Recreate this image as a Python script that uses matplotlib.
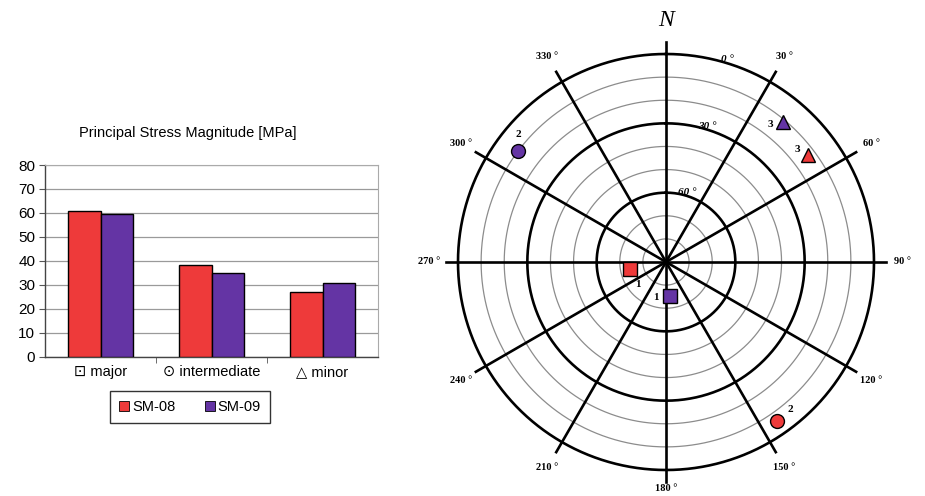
import numpy as np
import matplotlib
matplotlib.use("Agg")
import matplotlib.pyplot as plt
from matplotlib.patches import Patch

# ---------------- data ----------------
categories = ["\u22a1 major", "\u2299 intermediate", "\u25b3 minor"]
series_names = ["SM-08", "SM-09"]
sm08_values = [61, 38.5, 27]
sm09_values = [59.5, 35, 31]
y_ticks = [0, 10, 20, 30, 40, 50, 60, 70, 80]

# stereonet points: (azimuth deg, dip deg)
sm08_azimuth = [259, 145, 53]
sm08_dip = [74, 6, 13]
sm09_azimuth = [174, 307, 40]
sm09_dip = [75, 10, 11]
point_labels = ["1", "2", "3"]
point_markers = ["s", "o", "^"]

spoke_azimuths = [0, 30, 60, 90, 120, 150, 180, 210, 240, 270, 300, 330]
major_dips = [0, 30, 60]
minor_dips = [10, 20, 40, 50, 70, 80]
dip_label_azimuth = 17

RED = "#ee3a3a"
PURPLE = "#6434a4"

fig = plt.figure(figsize=(9.25, 4.96), dpi=100)
fig.patch.set_facecolor("white")
sans = ["Liberation Sans", "DejaVu Sans"]
serif = ["Liberation Serif", "DejaVu Serif"]

# ---------------- bar chart ----------------
ax = fig.add_axes([45 / 925, (496 - 357) / 496, 333 / 925, 192 / 496])
x = np.arange(len(categories))
w = 0.29
ax.bar(x - w / 2, sm08_values, w, color=RED, edgecolor="black", linewidth=1.0, zorder=3)
ax.bar(x + w / 2, sm09_values, w, color=PURPLE, edgecolor="black", linewidth=1.0, zorder=3)
ax.set_xlim(-0.5, len(categories) - 0.5)
ax.set_ylim(0, 80)
ax.set_yticks(y_ticks)
ax.set_yticklabels([str(v) for v in y_ticks], family=sans, fontsize=11)
ax.set_xticks(x)
ax.set_xticklabels(categories, family=sans, fontsize=10.5)
ax.tick_params(axis="x", length=0, pad=6)
ax.set_xticks(np.arange(0.5, len(categories) - 0.5, 1), minor=True)
ax.tick_params(axis="x", which="minor", length=4, color="#555555")
ax.tick_params(axis="y", length=4, color="#555555", pad=3)
ax.yaxis.grid(True, color="#9a9a9a", linewidth=0.9, zorder=0)
for s in ["top", "right"]:
    ax.spines[s].set_color("#aaaaaa")
for s in ["left", "bottom"]:
    ax.spines[s].set_color("#444444")
    ax.spines[s].set_linewidth(1.0)
fig.text(188 / 925, (496 - 133) / 496, "Principal Stress Magnitude [MPa]",
         ha="center", va="center", family=sans, fontsize=10.5)
handles = [Patch(facecolor=RED, edgecolor="black", linewidth=0.6),
           Patch(facecolor=PURPLE, edgecolor="black", linewidth=0.6)]
leg = fig.legend(handles, series_names, loc="center", ncol=2,
                 bbox_to_anchor=(190 / 925, (496 - 407) / 496),
                 prop={"family": sans, "size": 10.5}, frameon=True, fancybox=False,
                 edgecolor="black", handlelength=0.7, handleheight=0.7,
                 handletextpad=0.2, columnspacing=2.0, borderpad=0.6,
                 borderaxespad=0, handler_map=None)
leg.get_frame().set_linewidth(1.0)

# ---------------- stereonet (polar) ----------------
R = 208
cx, cy = 666, 262
pax = fig.add_axes([(cx - R) / 925, (496 - cy - R) / 496, 2 * R / 925, 2 * R / 496],
                   projection="polar")
pax.set_theta_zero_location("N")
pax.set_theta_direction(-1)
pax.set_rlim(0, 90)
pax.grid(False)
pax.set_xticks([])
pax.set_yticks([])
pax.spines["polar"].set_visible(False)
pax.patch.set_alpha(0)

th = np.linspace(0, 2 * np.pi, 721)
for d in minor_dips:
    pax.plot(th, np.full_like(th, 90 - d), color="#8c8c8c", lw=0.9, zorder=1)
for d in major_dips:
    pax.plot(th, np.full_like(th, 90 - d), color="black", lw=1.9, zorder=2,
             clip_on=False)
for a in spoke_azimuths:
    t = np.deg2rad(a)
    pax.plot([t, t], [0, 95], color="black", lw=1.9, zorder=2, clip_on=False)
    if a == 0:
        pax.text(t, 104.5, "N", ha="center", va="center", family=serif,
                 style="italic", fontsize=17, clip_on=False)
    else:
        rr = 98 if a == 180 else 102.5
        pax.text(t, rr, f"{a} \u00b0", ha="center", va="center", family=serif,
                 fontweight="bold", fontsize=7.5, clip_on=False)
for d in major_dips:
    pax.text(np.deg2rad(dip_label_azimuth), 90 - d + 1.5, f"{d} \u00b0", ha="center",
             va="center", family=serif, style="italic", fontweight="bold",
             fontsize=8, clip_on=False, zorder=4)

label_offsets_08 = [(6, -11), (9, 8), (-8, 4)]
label_offsets_09 = [(-10, -1), (0, 12), (-9, -2)]
for az, dp, col, offs in [(sm08_azimuth, sm08_dip, RED, label_offsets_08),
                          (sm09_azimuth, sm09_dip, PURPLE, label_offsets_09)]:
    for i in range(len(az)):
        t = np.deg2rad(az[i])
        r = 90 - dp[i]
        ms = 10 if point_markers[i] == "o" else 9.5
        pax.plot([t], [r], marker=point_markers[i], color=col, markersize=ms,
                 markeredgecolor="black", markeredgewidth=1.0, ls="none", zorder=5,
                 clip_on=False)
        pax.annotate(point_labels[i], (t, r), xytext=offs[i], textcoords="offset points",
                     ha="center", va="center", family=serif, fontweight="bold",
                     fontsize=8, zorder=6, annotation_clip=False)

fig.savefig("out.png", dpi=100, facecolor="white")
